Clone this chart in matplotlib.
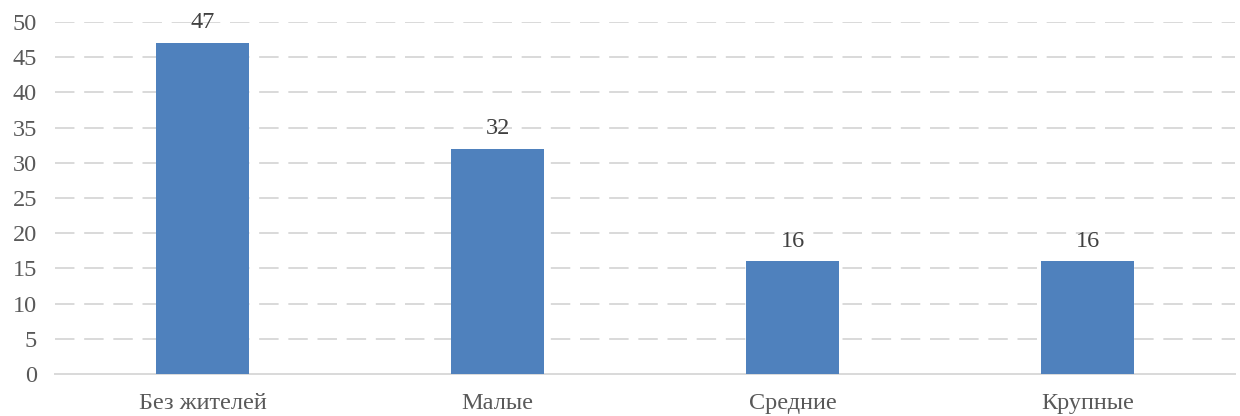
import matplotlib
matplotlib.use("Agg")
import matplotlib.pyplot as plt

categories = ["Без жителей", "Малые", "Средние", "Крупные"]
values = [47, 32, 16, 16]
yticks = [0, 5, 10, 15, 20, 25, 30, 35, 40, 45, 50]

plt.rcParams['font.family'] = ['Liberation Serif', 'DejaVu Serif']

fig = plt.figure(figsize=(12.4, 4.16), dpi=100)
ax = fig.add_axes([0.0444, 0.101, 0.9516, 0.846])

x = range(len(categories))
bars = ax.bar(x, values, width=0.315, color="#4F81BD", zorder=3)
for xi, v in zip(x, values):
    ax.annotate(str(v), (xi, v), xytext=(0, 7), textcoords="offset points",
                ha="center", va="bottom", fontsize=17.5, color="#404040")

ax.set_xlim(-0.5, len(categories) - 0.5)
ax.set_ylim(0, 50)
ax.set_yticks(yticks)
ax.set_xticks(list(x))
ax.set_xticklabels(categories)
ax.tick_params(axis="both", length=0, labelsize=17.5, labelcolor="#595959")
ax.tick_params(axis="x", pad=14)
ax.tick_params(axis="y", pad=13)
for lab in ax.get_yticklabels():
    lab.set_horizontalalignment("right")

for t in yticks[1:]:
    ax.axhline(t, color="#D9D9D9", lw=1.4, ls=(0, (10, 5)), zorder=1)
for s in ["top", "right", "left"]:
    ax.spines[s].set_visible(False)
ax.spines["bottom"].set_color("#D9D9D9")
ax.spines["bottom"].set_linewidth(1.4)

fig.savefig("out.png", dpi=100)
